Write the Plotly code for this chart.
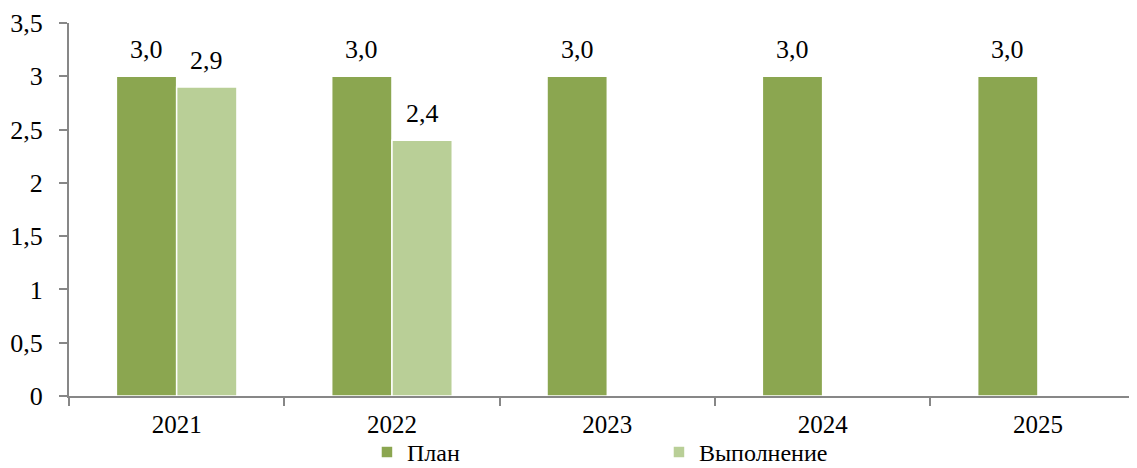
import plotly.graph_objects as go

years = ["2021", "2022", "2023", "2024", "2025"]
plan = [3.0, 3.0, 3.0, 3.0, 3.0]
done = [2.9, 2.4, None, None, None]
y_ticks = [0, 0.5, 1, 1.5, 2, 2.5, 3, 3.5]

FONT = "Liberation Serif"
FS = 26
C_PLAN = "#8BA650"
C_DONE = "#B9CF97"
BARGAP = 0.44

fig = go.Figure()
fig.add_bar(x=years, y=plan, name="План", marker=dict(color=C_PLAN, line=dict(color="white", width=1.5)))
fig.add_bar(x=years, y=done, name="Выполнение", marker=dict(color=C_DONE, line=dict(color="white", width=1.5)))

w = (1 - BARGAP) / 2
ann = []
for i, v in enumerate(plan):
    if v is not None:
        ann.append(dict(x=i - w / 2, y=v, xref="x", yref="y", text=f"{v:.1f}".replace(".", ","),
                        showarrow=False, yanchor="bottom", yshift=10, font=dict(family=FONT, size=FS, color="black")))
for i, v in enumerate(done):
    if v is not None:
        ann.append(dict(x=i + w / 2, y=v, xref="x", yref="y", text=f"{v:.1f}".replace(".", ","),
                        showarrow=False, yanchor="bottom", yshift=10, font=dict(family=FONT, size=FS, color="black")))

fig.update_layout(
    width=1129, height=460,
    margin=dict(l=61, r=0, t=15, b=72, autoexpand=False),
    paper_bgcolor="white", plot_bgcolor="white",
    barmode="group", bargap=BARGAP, bargroupgap=0,
    separators=", ",
    font=dict(family=FONT, size=FS, color="black"),
    annotations=ann,
    showlegend=True,
    legend=dict(orientation="h", x=0.279, xanchor="left", y=-0.1514, yanchor="middle",
                entrywidth=247, entrywidthmode="pixels", itemwidth=30,
                font=dict(family=FONT, size=24, color="black"), bgcolor="rgba(0,0,0,0)"),
)
fig.update_xaxes(type="category", range=[-0.5, 4.46], showline=True, linecolor="#878787", linewidth=2,
                 ticks="outside", tickson="boundaries", ticklen=8, tickcolor="#878787", tickwidth=2,
                 ticklabelstandoff=5, showgrid=False, zeroline=False, automargin=False,
                 tickfont=dict(family=FONT, size=25, color="black"))
fig.update_yaxes(range=[0, 3.5], tickvals=y_ticks, showline=True, linecolor="#878787", linewidth=2,
                 ticks="outside", ticklen=8, tickcolor="#878787", tickwidth=2,
                 ticklabelstandoff=11, showgrid=False, zeroline=False, automargin=False,
                 tickfont=dict(family=FONT, size=FS, color="black"))

fig.write_html("out.html")
